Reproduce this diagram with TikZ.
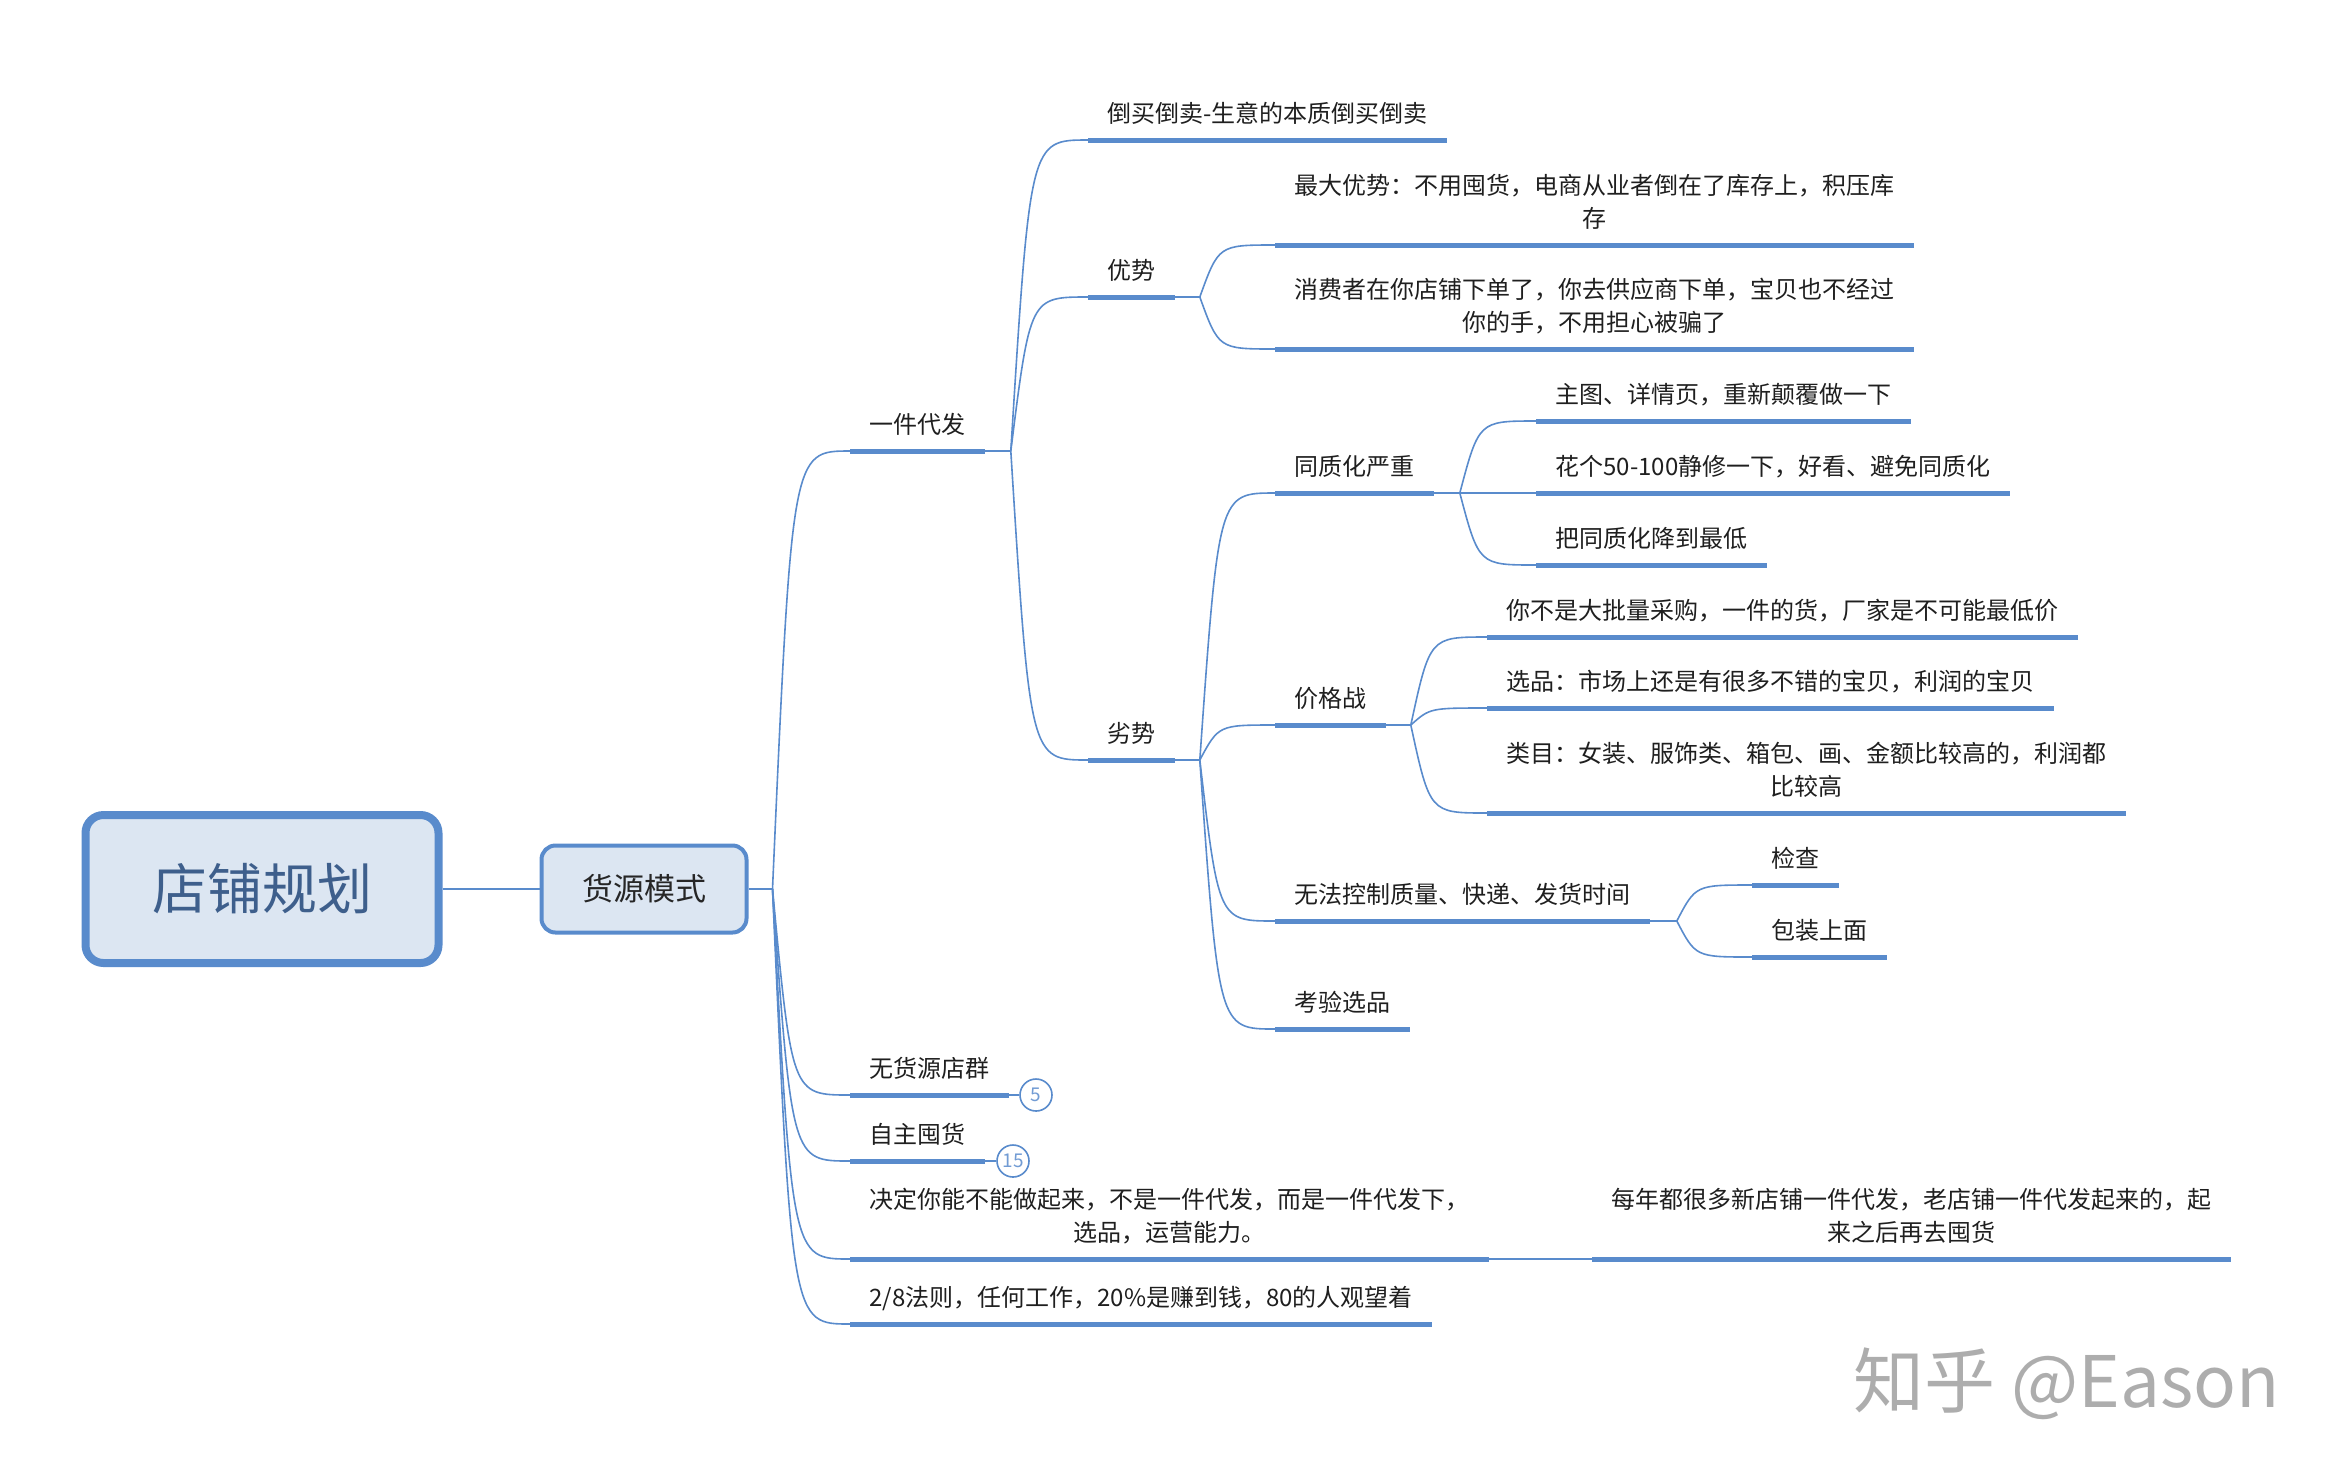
\documentclass[tikz,border=0pt]{standalone}
\usepackage{fontspec}
\setmainfont{Noto Sans CJK SC}
\usetikzlibrary{calc}
\definecolor{lineblue}{RGB}{89,139,204}
\definecolor{boxfill}{RGB}{220,230,242}
\definecolor{roottext}{RGB}{62,95,140}
\newcommand\twig[2]{\draw[conn] (#1) .. controls ($(#1|-#2.south west)!0.25!(#2.south west)$) .. (#2.south west);}
\begin{document}
\begin{tikzpicture}[x=0.5pt,y=-0.5pt,
    conn/.style={draw=lineblue,line width=0.8pt},
    uline/.style={draw=lineblue,line width=2.5pt},
    topic/.style={anchor=south west,inner xsep=9.5pt,inner ysep=7.7pt,text depth=1pt,align=center,
        font=\fontsize{12pt}{16.5pt}\selectfont,text=black!88,
        append after command={(\tikzlastnode.south west) edge[uline] (\tikzlastnode.south east)}},
    badge/.style={circle,draw=lineblue,line width=0.8pt,fill=white,minimum size=16pt,inner sep=0pt,
        font=\fontsize{9.5pt}{10pt}\selectfont,text=lineblue!85!white}]
    \useasboundingbox (0,0) rectangle (2338,1474);
    \node[draw=lineblue,line width=4pt,fill=boxfill,rounded corners=9pt,minimum width=176.5pt,minimum height=74pt,
        font=\fontsize{27.5pt}{30pt}\selectfont,text=roottext] (root) at (262,889) {店铺规划};
    \node[draw=lineblue,line width=2pt,fill=boxfill,rounded corners=7pt,minimum width=102.5pt,minimum height=43.5pt,
        font=\fontsize{15.5pt}{18pt}\selectfont,text=black!85] (src) at (644,889) {货源模式};
    \draw[conn] (root.east) -- (src.west);
    \draw[conn] (src.east) -- ++(24,0) coordinate (srcB);

    \node[topic] (yjdf) at (850,451) {一件代发};
    \node[topic] (whyd) at (850,1095) {无货源店群};
    \node[topic] (zzth) at (850,1161) {自主囤货};
    \node[topic] (jdnn) at (850,1259) {决定你能不能做起来，不是一件代发，而是一件代发下，\\选品，运营能力。};
    \node[topic] (efz) at (850,1324) {2/8法则，任何工作，20\%是赚到钱，80的人观望着};
    \foreach \k in {yjdf,whyd,zzth,jdnn,efz} {\twig{srcB}{\k}}

    \node[badge] (nfive) at (1036,1095) {5};
    \node[badge] (nfifteen) at (1013,1161) {15};
    \draw[conn] (whyd.south east) -- (nfive);
    \draw[conn] (zzth.south east) -- (nfifteen);

    \node[topic] (mnd) at (1592,1259) {每年都很多新店铺一件代发，老店铺一件代发起来的，起\\来之后再去囤货};
    \draw[conn] (jdnn.south east) -- (mnd.south west);

    \draw[conn] (yjdf.south east) -- ++(26,0) coordinate (yjdfB);
    \node[topic] (dmdm) at (1088,140) {倒买倒卖-生意的本质倒买倒卖};
    \node[topic] (ys) at (1088,297) {优势};
    \node[topic] (ls) at (1088,760) {劣势};
    \foreach \k in {dmdm,ys,ls} {\twig{yjdfB}{\k}}

    \draw[conn] (ys.south east) -- ++(25,0) coordinate (ysB);
    \node[topic] (zdys) at (1275,245) {最大优势：不用囤货，电商从业者倒在了库存上，积压库\\存};
    \node[topic] (xfz) at (1275,349) {消费者在你店铺下单了，你去供应商下单，宝贝也不经过\\你的手，不用担心被骗了};
    \foreach \k in {zdys,xfz} {\twig{ysB}{\k}}

    \draw[conn] (ls.south east) -- ++(25,0) coordinate (lsB);
    \node[topic] (tzh) at (1275,493) {同质化严重};
    \node[topic] (jgz) at (1275,725) {价格战};
    \node[topic] (wfkz) at (1275,921) {无法控制质量、快递、发货时间};
    \node[topic] (kyxp) at (1275,1029) {考验选品};
    \foreach \k in {tzh,jgz,wfkz,kyxp} {\twig{lsB}{\k}}

    \draw[conn] (tzh.south east) -- ++(26,0) coordinate (tzhB);
    \node[topic] (zt) at (1536,421) {主图、详情页，重新颠覆做一下};
    \node[topic] (hg) at (1536,493) {花个50-100静修一下，好看、避免同质化};
    \node[topic] (bt) at (1536,565) {把同质化降到最低};
    \foreach \k in {zt,hg,bt} {\twig{tzhB}{\k}}

    \draw[conn] (jgz.south east) -- ++(25,0) coordinate (jgzB);
    \node[topic] (nbs) at (1487,637) {你不是大批量采购，一件的货，厂家是不可能最低价};
    \node[topic] (xp) at (1487,708) {选品：市场上还是有很多不错的宝贝，利润的宝贝};
    \node[topic] (lm) at (1487,813) {类目：女装、服饰类、箱包、画、金额比较高的，利润都\\比较高};
    \foreach \k in {nbs,xp,lm} {\twig{jgzB}{\k}}

    \draw[conn] (wfkz.south east) -- ++(27,0) coordinate (wfkzB);
    \node[topic] (jc) at (1752,885) {检查};
    \node[topic] (bz) at (1752,957) {包装上面};
    \foreach \k in {jc,bz} {\twig{wfkzB}{\k}}

    \node[anchor=base west,inner sep=0pt,text=black!32,font=\fontsize{35.5pt}{38pt}\selectfont] (mark) at (1853,1407) {知乎 @Eason};
\end{tikzpicture}
\end{document}
